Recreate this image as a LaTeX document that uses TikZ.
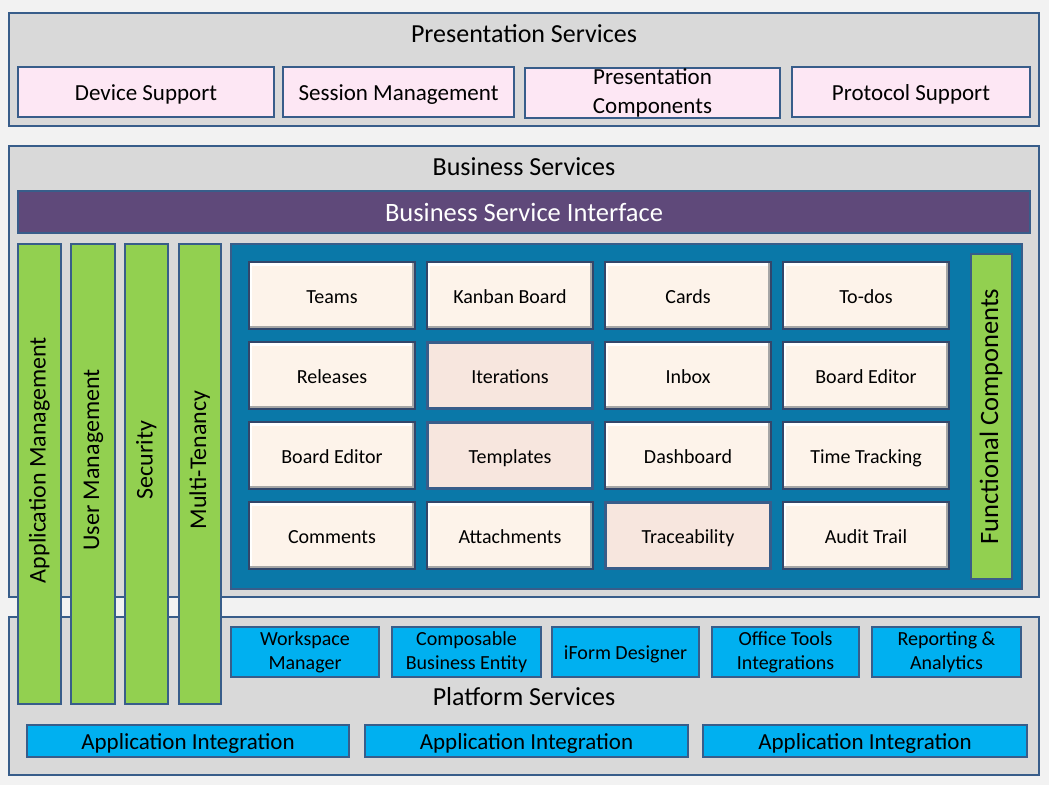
\documentclass[tikz,border=0pt]{standalone}
\usepackage{fontspec}
\setmainfont{Carlito}
\definecolor{bgc}{HTML}{F2F2F2}
\definecolor{secfill}{HTML}{D9D9D9}
\definecolor{bord}{HTML}{385D8A}
\definecolor{pinkc}{HTML}{FDE7F4}
\definecolor{purp}{HTML}{5F497A}
\definecolor{greenc}{HTML}{92D050}
\definecolor{tealc}{HTML}{0A78A8}
\definecolor{creamc}{HTML}{FDF3EA}
\definecolor{flatc}{HTML}{F7E6DE}
\definecolor{bluec}{HTML}{00B0F0}
\definecolor{cellbord}{HTML}{33466A}
\tikzset{
  section/.style={draw=bord, fill=secfill, line width=2.5pt, inner sep=0pt},
  title/.style={font=\fontsize{26}{28}\selectfont, inner sep=0pt, text height=22pt, text depth=4pt},
  pinkbox/.style={draw=bord, fill=pinkc, line width=2.5pt, inner sep=0pt, align=center, font=\fontsize{23}{28.5}\selectfont},
  bsibox/.style={draw=bord, fill=purp, line width=2.5pt, inner sep=0pt, text=white, font=\fontsize{26.5}{28}\selectfont,
    text height=23pt, text depth=4pt},
  greenbar/.style={draw=bord, fill=greenc, line width=2.5pt, inner sep=0pt},
  vtext/.style={rotate=90, inner sep=0pt, font=\fontsize{24}{28}\selectfont, text height=17pt, text depth=5pt},
  teal/.style={draw=bord, fill=tealc, line width=2.5pt, inner sep=0pt},
  cell/.style={draw=cellbord, fill=creamc, line width=2.5pt, inner sep=0pt, font=\fontsize{20}{24}\selectfont,
    minimum width=166pt, minimum height=67pt, text height=18pt, text depth=2.4pt,
    path picture={
      \draw[white, line width=8pt] (path picture bounding box.north west) -- (path picture bounding box.north east);
      \draw[white, line width=5pt] (path picture bounding box.north west) -- (path picture bounding box.south west);
      \draw[black!35, line width=7pt] (path picture bounding box.south west) -- (path picture bounding box.south east);
      \draw[black!35, line width=6pt] (path picture bounding box.north east) -- (path picture bounding box.south east);
    }},
  flatcell/.style={draw=bord, fill=flatc, line width=3pt, inner sep=0pt, font=\fontsize{20}{24}\selectfont,
    minimum width=165pt, minimum height=66pt, text height=18pt, text depth=2.4pt},
  bluebox/.style={draw=bord, fill=bluec, line width=2.5pt, inner sep=0pt, align=center, font=\fontsize{20}{24}\selectfont},
  aibox/.style={draw=bord, fill=bluec, line width=2.5pt, inner sep=0pt, font=\fontsize{23}{28}\selectfont,
    minimum height=32pt, text height=21pt, text depth=5pt},
  onebox/.style={text height=20pt, text depth=4pt},
}
\begin{document}
\begin{tikzpicture}[x=1pt, y=-1pt]
\fill[bgc] (0,0) rectangle (1049,785);
\useasboundingbox (0,0) rectangle (1049,785);

% Presentation Services
\node[section, minimum width=1030pt, minimum height=113pt] (pres) at (524,69.5) {};
\node[title] (prestitle) at (524,33) {Presentation Services};
\node[pinkbox, onebox, minimum width=256pt, minimum height=50pt] (dev) at (146,92) {Device Support};
\node[pinkbox, onebox, minimum width=231pt, minimum height=50pt] (sess) at (398.5,92) {Session Management};
\node[pinkbox, minimum width=255pt, minimum height=50pt] (pcomp) at (652.5,93) {Presentation\\Components};
\node[pinkbox, onebox, minimum width=238pt, minimum height=50pt] (proto) at (911,92) {Protocol Support};

% Business Services
\node[section, minimum width=1030pt, minimum height=451pt] (bus) at (524,371.5) {};
\node[title] (bustitle) at (524,166) {Business Services};
\node[bsibox, minimum width=1012pt, minimum height=42pt] (bsi) at (524,212) {Business Service Interface};

% Platform Services
\node[section, minimum width=1030pt, minimum height=158pt] (plat) at (524,696) {};
\node[title] (plattitle) at (524,696) {Platform Services};

% Green vertical bars
\node[greenbar, minimum width=43pt, minimum height=460pt] (appm) at (39.5,474) {};
\node[vtext] (appmt) at (39.5,460) {Application Management};
\node[greenbar, minimum width=44pt, minimum height=460pt] (userm) at (93,474) {};
\node[vtext] (usermt) at (93,460) {User Management};
\node[greenbar, minimum width=43pt, minimum height=460pt] (secu) at (146.5,474) {};
\node[vtext] (secut) at (146.5,460) {Security};
\node[greenbar, minimum width=42pt, minimum height=460pt] (mten) at (200,474) {};
\node[vtext] (mtent) at (200,460) {Multi-Tenancy};

% Functional components panel
\node[teal, minimum width=791pt, minimum height=345pt] (panel) at (626.5,416.5) {};
\node[cell] (c11) at (332,295.5) {Teams};
\node[cell] (c12) at (510,295.5) {Kanban Board};
\node[cell] (c13) at (688,295.5) {Cards};
\node[cell] (c14) at (866,295.5) {To-dos};
\node[cell] (c21) at (332,375.5) {Releases};
\node[flatcell] (c22) at (510,375.5) {Iterations};
\node[cell] (c23) at (688,375.5) {Inbox};
\node[cell] (c24) at (866,375.5) {Board Editor};
\node[cell] (c31) at (332,455.5) {Board Editor};
\node[flatcell] (c32) at (510,455.5) {Templates};
\node[cell] (c33) at (688,455.5) {Dashboard};
\node[cell] (c34) at (866,455.5) {Time Tracking};
\node[cell] (c41) at (332,535.5) {Comments};
\node[cell] (c42) at (510,535.5) {Attachments};
\node[flatcell] (c43) at (688,535.5) {Traceability};
\node[cell] (c44) at (866,535.5) {Audit Trail};
\node[greenbar, minimum width=41pt, minimum height=325pt] (func) at (991.5,416.5) {};
\node[vtext, font=\fontsize{26.5}{28}\selectfont, text height=18pt] (funct) at (991.5,416.5) {Functional Components};

% Platform sub boxes
\node[bluebox, minimum width=148pt, minimum height=50pt] (wm) at (305,652) {Workspace\\Manager};
\node[bluebox, minimum width=149pt, minimum height=50pt] (cbe) at (466.5,652) {Composable\\Business Entity};
\node[bluebox, text height=17pt, text depth=3pt, minimum width=147pt, minimum height=50pt] (ifd) at (625.5,652) {iForm Designer};
\node[bluebox, minimum width=147pt, minimum height=50pt] (oti) at (785.5,652) {Office Tools\\Integrations};
\node[bluebox, minimum width=149pt, minimum height=50pt] (ra) at (946.5,652) {Reporting \&\\Analytics};

\node[aibox, minimum width=322pt] (ai1) at (188,741) {Application Integration};
\node[aibox, minimum width=323pt] (ai2) at (526.5,741) {Application Integration};
\node[aibox, minimum width=324pt] (ai3) at (865,741) {Application Integration};
\end{tikzpicture}
\end{document}
